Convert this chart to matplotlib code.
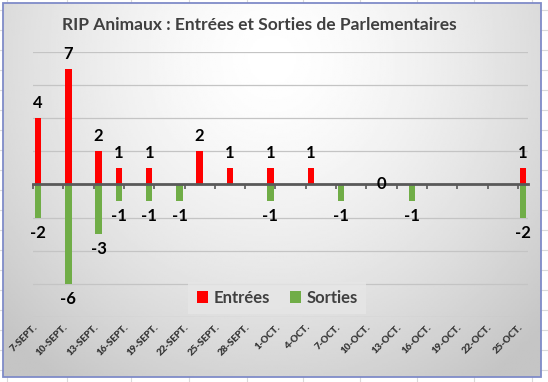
import numpy as np
import pandas as pd
import matplotlib
matplotlib.use('Agg')
import matplotlib.pyplot as plt
from matplotlib.patches import Rectangle

plt.rcParams['font.family'] = ['Lato', 'DejaVu Sans']

# donnees (jour-mois)
debut = '09-07'
entrees_dates = ['09-07', '09-10', '09-13', '09-15', '09-18', '09-23', '09-26', '09-30', '10-04', '10-11', '10-25']
entrees = [4, 7, 2, 1, 1, 2, 1, 1, 1, 0, 1]
sorties_dates = ['09-07', '09-10', '09-13', '09-15', '09-18', '09-21', '09-30', '10-07', '10-14', '10-25']
sorties = [-2, -6, -3, -1, -1, -1, -1, -1, -1, -2]
etiquettes = ['7-SEPT.', '10-SEPT.', '13-SEPT.', '16-SEPT.', '19-SEPT.', '22-SEPT.', '25-SEPT.', '28-SEPT.',
              '1-OCT.', '4-OCT.', '7-OCT.', '10-OCT.', '13-OCT.', '16-OCT.', '19-OCT.', '22-OCT.', '25-OCT.']
titre = 'RIP Animaux : Entrées et Sorties de Parlementaires'

def jours(liste):
    d0 = pd.to_datetime('2021-' + debut)
    return np.array([(pd.to_datetime('2021-' + d) - d0).days for d in liste])

xe = jours(entrees_dates)
xs = jours(sorties_dates)

fig = plt.figure(figsize=(5.48, 3.82), dpi=100)
fig.patch.set_facecolor('white')

# fond : grille du tableur + zone de graphique en degrade
bg = fig.add_axes([0, 0, 1, 1])
bg.set_xlim(0, 548)
bg.set_ylim(382, 0)
bg.axis('off')
for yy in range(10, 382, 20):
    bg.axhline(yy, color='#dadada', lw=0.8, zorder=0)
for xx in [7, 67, 131, 189, 247, 303, 360, 417, 474, 532]:
    bg.axvline(xx, color='#dadada', lw=0.8, zorder=0)
gy, gx = np.mgrid[0:1:200j, 0:1:300j]
r = np.sqrt(((gx - 0.5) / 0.7) ** 2 + ((gy - 0.15) / 1.05) ** 2)
g = 1 - 0.23 * np.clip(r, 0, 1) ** 1.5
bg.imshow(g, cmap='gray', vmin=0, vmax=1, extent=(3, 541, 377, 3), aspect='auto', zorder=1)
bg.add_patch(Rectangle((3, 3), 538, 374, fill=False, edgecolor='#7f8bc8', lw=1.3, zorder=2))

fig.text(0.474, 0.935, titre, ha='center', va='center', fontsize=12.5, fontweight='bold', color='#404040')

ax = fig.add_axes([33 / 548, 65 / 382, 495 / 548, 265 / 382])
ax.patch.set_alpha(0)
b1 = ax.bar(xe + 0.5, entrees, width=0.65, color='#ff0000', zorder=3, label='Entrées')
b2 = ax.bar(xs + 0.5, sorties, width=0.65, color='#70ad47', zorder=3, label='Sorties')

for x, v in zip(xe, entrees):
    if v == 0:
        ax.annotate(str(v), (x + 0.5, 0), ha='center', va='center', fontsize=12, fontweight='bold',
                    color='black', zorder=5)
    else:
        ax.annotate(str(v), (x + 0.5, v), xytext=(0, 5), textcoords='offset points', ha='center',
                    va='bottom', fontsize=12, fontweight='bold', color='black', annotation_clip=False)
for x, v in zip(xs, sorties):
    ax.annotate(str(v), (x + 0.5, v), xytext=(0, -5), textcoords='offset points', ha='center',
                va='top', fontsize=12, fontweight='bold', color='black', annotation_clip=False)

ax.set_xlim(0, 49)
ax.set_ylim(-8, 8)
ax.set_yticks(range(-8, 9, 2))
ax.grid(axis='y', color='#c4c4c4', lw=0.9, zorder=0)
ax.tick_params(axis='y', length=0, labelleft=False)
for s in ['left', 'right', 'top']:
    ax.spines[s].set_visible(False)
ax.spines['bottom'].set_position(('data', 0))
ax.spines['bottom'].set_color('#595959')
ax.spines['bottom'].set_linewidth(2)
ax.spines['bottom'].set_zorder(4)
ticks = np.arange(0, 49, 3)
ax.set_xticks(ticks)
ax.tick_params(axis='x', length=3.5, width=1.2, color='#595959', direction='out', labelbottom=False)

sec = ax.secondary_xaxis('bottom')
sec.set_xticks(ticks, etiquettes)
sec.spines['bottom'].set_visible(False)
sec.tick_params(axis='x', length=0, pad=4)
for t in sec.get_xticklabels():
    t.set_rotation(45)
    t.set_ha('right')
    t.set_rotation_mode('anchor')
    t.set_fontsize(7)
    t.set_fontweight('heavy')
    t.set_color('#3a3a3a')

leg = ax.legend(handles=[b1, b2], loc='center', bbox_to_anchor=(0.493, 0.072), ncol=2, frameon=True,
                fancybox=False, handlelength=0.7, handleheight=0.7, handletextpad=0.3, columnspacing=1.2,
                prop={'size': 12, 'weight': 'bold'}, borderpad=0.5, borderaxespad=0)
leg.get_frame().set_facecolor('#e6e6e6')
leg.get_frame().set_edgecolor('none')
for t in leg.get_texts():
    t.set_color('#404040')

fig.savefig('out.png', dpi=100)
